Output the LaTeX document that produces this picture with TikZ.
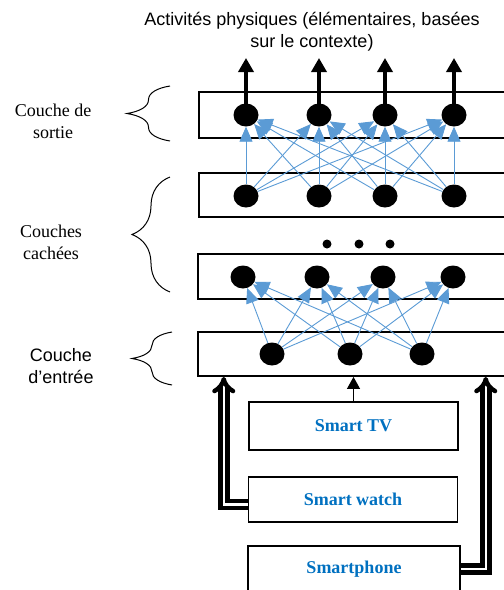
\documentclass[tikz,border=0pt]{standalone}
\usepackage{fontspec}
\setmainfont{Liberation Serif}
\setsansfont{Liberation Sans}
\definecolor{NetBlue}{RGB}{91,155,213}
\definecolor{DevBlue}{RGB}{0,112,192}
\usetikzlibrary{
    shapes.geometric,
    arrows.meta,
    positioning,
    calc,
    decorations.pathreplacing,
}

\begin{document}
\begin{tikzpicture}[x=1pt, y=-1pt,
        neuron/.style={ellipse, fill=black, minimum width=25pt, minimum height=23pt, inner sep=0pt},
        layerbox/.style={draw, line width=1.8pt, minimum width=330pt, inner sep=0pt, anchor=west},
        devbox/.style={draw, line width=1.5pt, minimum width=209pt, inner sep=0pt, text=DevBlue, font=\fontsize{18}{21}\selectfont\bfseries},
        link/.style={NetBlue, line width=0.9pt, -{Triangle[length=15pt, width=13pt]}},
        outarrow/.style={line width=3.5pt, -{Triangle[length=14pt, width=15pt]}},
        feed/.style={double, double distance=2.5pt, line width=4.5pt, -{Implies}},
        layerbrace/.style={decorate, decoration={brace, amplitude=#1}, line width=1pt},
        sidetext/.style={align=center, font=\fontsize{18}{22}\selectfont},
    ]
        \useasboundingbox (0,0) rectangle (504,590);
        % layers
        \node[layerbox, minimum height=46pt] (outL) at (198,115) {};
        \node[layerbox, minimum height=44pt] (hidA) at (198,195) {};
        \node[layerbox, minimum height=45pt] (hidB) at (197,276.5) {};
        \node[layerbox, minimum height=44pt] (inL) at (197,354) {};
        \foreach \x [count=\i] in {246,319,385,454} {
            \node[neuron] (o\i) at (\x,115) {};
            \node[neuron] (a\i) at (\x,196) {};
        }
        \foreach \x [count=\i] in {243,317,383,453}
            \node[neuron] (b\i) at (\x,277) {};
        \foreach \x [count=\i] in {272,350,422}
            \node[neuron] (e\i) at (\x,354) {};
        \foreach \i in {1,...,4}
            \foreach \j in {1,...,4}
                \draw[link] (a\i) -- (o\j);
        \foreach \i in {1,...,3}
            \foreach \j in {1,...,4}
                \draw[link] (e\i) -- (b\j);
        \foreach \i in {1,...,4}
            \draw[outarrow] (o\i.center) -- ++(0,-57);
        \foreach \x in {327,359,390}
            \fill (\x,244) circle (4.5);
        % braces and labels
        \draw[layerbrace=43pt] (170,141) -- (170,86);
        \draw[layerbrace=38pt] (170,292) -- (170,177);
        \draw[layerbrace=40pt] (172,385) -- (172,332);
        \node[sidetext] (outT) at (53,121) {Couche de\\sortie};
        \node[sidetext] (hidT) at (51,242) {Couches\\cachées};
        \node[sidetext, font=\sffamily\fontsize{18}{22}\selectfont] (inT) at (61,366) {Couche\\d’entrée};
        \node[sidetext, font=\sffamily\fontsize{18}{22}\selectfont] (title) at (312,32) {Activités physiques (élémentaires, basées\\sur le contexte)};
        % devices
        \node[devbox, minimum height=48pt] (tv) at (353.5,426) {Smart TV};
        \node[devbox, minimum height=45pt] (watch) at (353,499.5) {Smart watch};
        \node[devbox, minimum height=46pt, minimum width=212pt] (phone) at (354,569) {Smartphone};
        \draw[line width=1pt, -{Triangle[length=12pt, width=13pt]}] (tv.north) -- (tv.north |- inL.south);
        \draw[feed] ([yshift=-5pt]watch.west) -- ++(-24,0) coordinate (wk) -- (wk |- inL.south);
        \draw[feed] (phone.east) -- ++(25,0) coordinate (pk) -- (pk |- inL.south);
    \end{tikzpicture}
\end{document}
